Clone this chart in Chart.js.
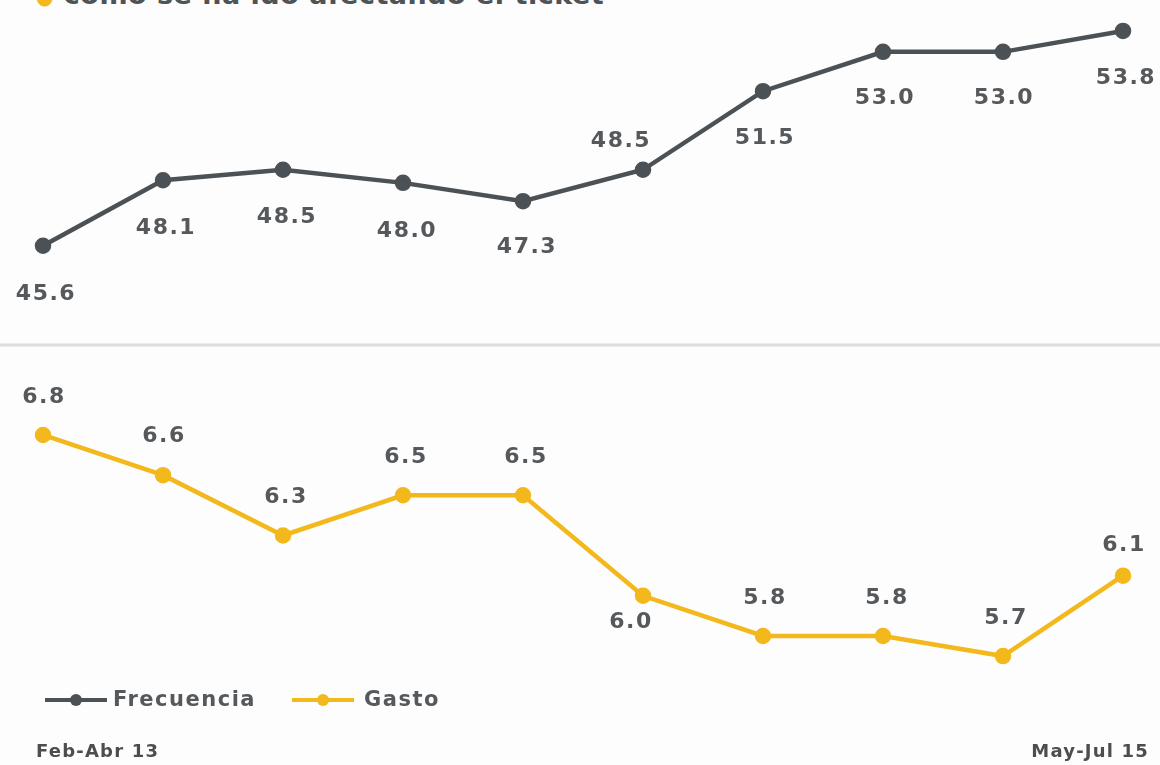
<!DOCTYPE html>
<html>
<head>
<meta charset="utf-8">
<script src="https://cdn.jsdelivr.net/npm/chart.js@4.4.1/dist/chart.umd.min.js"></script>
<style>
  html, body { margin: 0; padding: 0; background: #fdfdfd; }
  #wrap { position: relative; width: 1160px; height: 765px; overflow: hidden; }
  #title { position: absolute; left: 36px; top: -21px; font-family: "DejaVu Sans", sans-serif;
           font-weight: bold; font-size: 27px; color: #4e5356; letter-spacing: 0.5px; white-space: nowrap; }
  #title .dot { color: #f2b81c; font-size: 20px; }
  canvas { position: absolute; left: 0; top: 0; }
</style>
</head>
<body>
<div id="wrap">
  <div id="title"><span class="dot">●</span> como se ha ido afectando el ticket</div>
  <canvas id="c" width="1160" height="765"></canvas>
</div>
<script>
// Rolling three-month periods
const periods = ['Feb-Abr 13', 'May-Jul 13', 'Ago-Oct 13', 'Nov-Ene 14', 'Feb-Abr 14',
                 'May-Jul 14', 'Ago-Oct 14', 'Nov-Ene 15', 'Feb-Abr 15', 'May-Jul 15'];
// Purchase frequency
const frecuencia = [45.6, 48.1, 48.5, 48.0, 47.3, 48.5, 51.5, 53.0, 53.0, 53.8];
// Spend per ticket
const gasto = [6.8, 6.6, 6.3, 6.5, 6.5, 6.0, 5.8, 5.8, 5.7, 6.1];
const seriesNames = ['Frecuencia', 'Gasto'];

// Value label offsets from each point (dx, dy in px)
const frecLabelOffsets = [[2, 49], [2, 48], [3, 48], [3, 48], [3, 46], [-23, -28], [1, 47], [1, 46], [0, 46], [2, 47]];
const gastoLabelOffsets = [[0, -38], [0, -39], [2, -38], [2, -38], [2, -38], [-13, 27], [1, -38], [3, -38], [2, -38], [0, -30]];

const GRAY = '#4b5154';
const YELLOW = '#f2b81c';
const TEXT = '#56595c';

const overlay = {
  id: 'overlay',
  beforeDatasetsDraw(chart) {
    const ctx = chart.ctx;
    ctx.save();
    ctx.strokeStyle = '#dcdcdc';
    ctx.lineWidth = 3;
    ctx.beginPath();
    ctx.moveTo(0, 345);
    ctx.lineTo(chart.width, 345);
    ctx.stroke();
    ctx.restore();
  },
  afterDatasetsDraw(chart) {
    const ctx = chart.ctx;
    ctx.save();
    ctx.font = 'bold 22px "DejaVu Sans"';
    ctx.letterSpacing = '1.5px';
    ctx.fillStyle = TEXT;
    ctx.textAlign = 'center';
    ctx.textBaseline = 'middle';
    const offsets = [frecLabelOffsets, gastoLabelOffsets];
    chart.data.datasets.forEach((ds, di) => {
      const meta = chart.getDatasetMeta(di);
      meta.data.forEach((pt, i) => {
        const [dx, dy] = offsets[di][i];
        ctx.fillText(ds.data[i].toFixed(1), pt.x + dx + 1, pt.y + dy);
      });
    });

    // Legend
    const legendY = 700;
    const items = [{x: 45, text: 113}, {x: 292, text: 364}];
    ctx.font = 'bold 21px "DejaVu Sans"';
    chart.data.datasets.forEach((ds, di) => {
      const it = items[di];
      ctx.strokeStyle = ds.borderColor;
      ctx.lineWidth = 4;
      ctx.beginPath();
      ctx.moveTo(it.x, legendY);
      ctx.lineTo(it.x + 62, legendY);
      ctx.stroke();
      ctx.fillStyle = ds.borderColor;
      ctx.beginPath();
      ctx.arc(it.x + 31, legendY, 6, 0, Math.PI * 2);
      ctx.fill();
      ctx.fillStyle = TEXT;
      ctx.textAlign = 'left';
      ctx.letterSpacing = '1.5px';
      ctx.fillText(ds.label, it.text, legendY + 1);
    });

    // First and last period
    const xs = chart.scales.x;
    ctx.font = 'bold 18px "DejaVu Sans"';
    ctx.letterSpacing = '1.2px';
    ctx.fillStyle = '#4a4e51';
    ctx.textAlign = 'left';
    ctx.fillText(periods[0], xs.getPixelForValue(0) - 7, 752);
    ctx.textAlign = 'right';
    ctx.fillText(periods[periods.length - 1], xs.getPixelForValue(periods.length - 1) + 26, 752);
    ctx.restore();
  }
};

new Chart(document.getElementById('c'), {
  type: 'line',
  data: {
    labels: periods,
    datasets: [
      { label: seriesNames[0], data: frecuencia, yAxisID: 'yTop', borderColor: GRAY, backgroundColor: GRAY,
        borderWidth: 4.5, pointRadius: 6, pointHoverRadius: 6, tension: 0, clip: false },
      { label: seriesNames[1], data: gasto, yAxisID: 'yBot', borderColor: YELLOW, backgroundColor: YELLOW,
        borderWidth: 4.5, pointRadius: 6, pointHoverRadius: 6, tension: 0, clip: false }
    ]
  },
  options: {
    responsive: false,
    animation: false,
    events: [],
    layout: { autoPadding: false, padding: { left: 43, right: 37, top: 0, bottom: 0 } },
    plugins: { legend: { display: false }, tooltip: { enabled: false } },
    scales: {
      x: { display: false, offset: false },
      yTop: { display: false, min: 25.78, max: 54.98 },
      yBot: { display: false, min: 5.158, max: 8.964 }
    }
  },
  plugins: [overlay]
});
</script>
</body>
</html>
